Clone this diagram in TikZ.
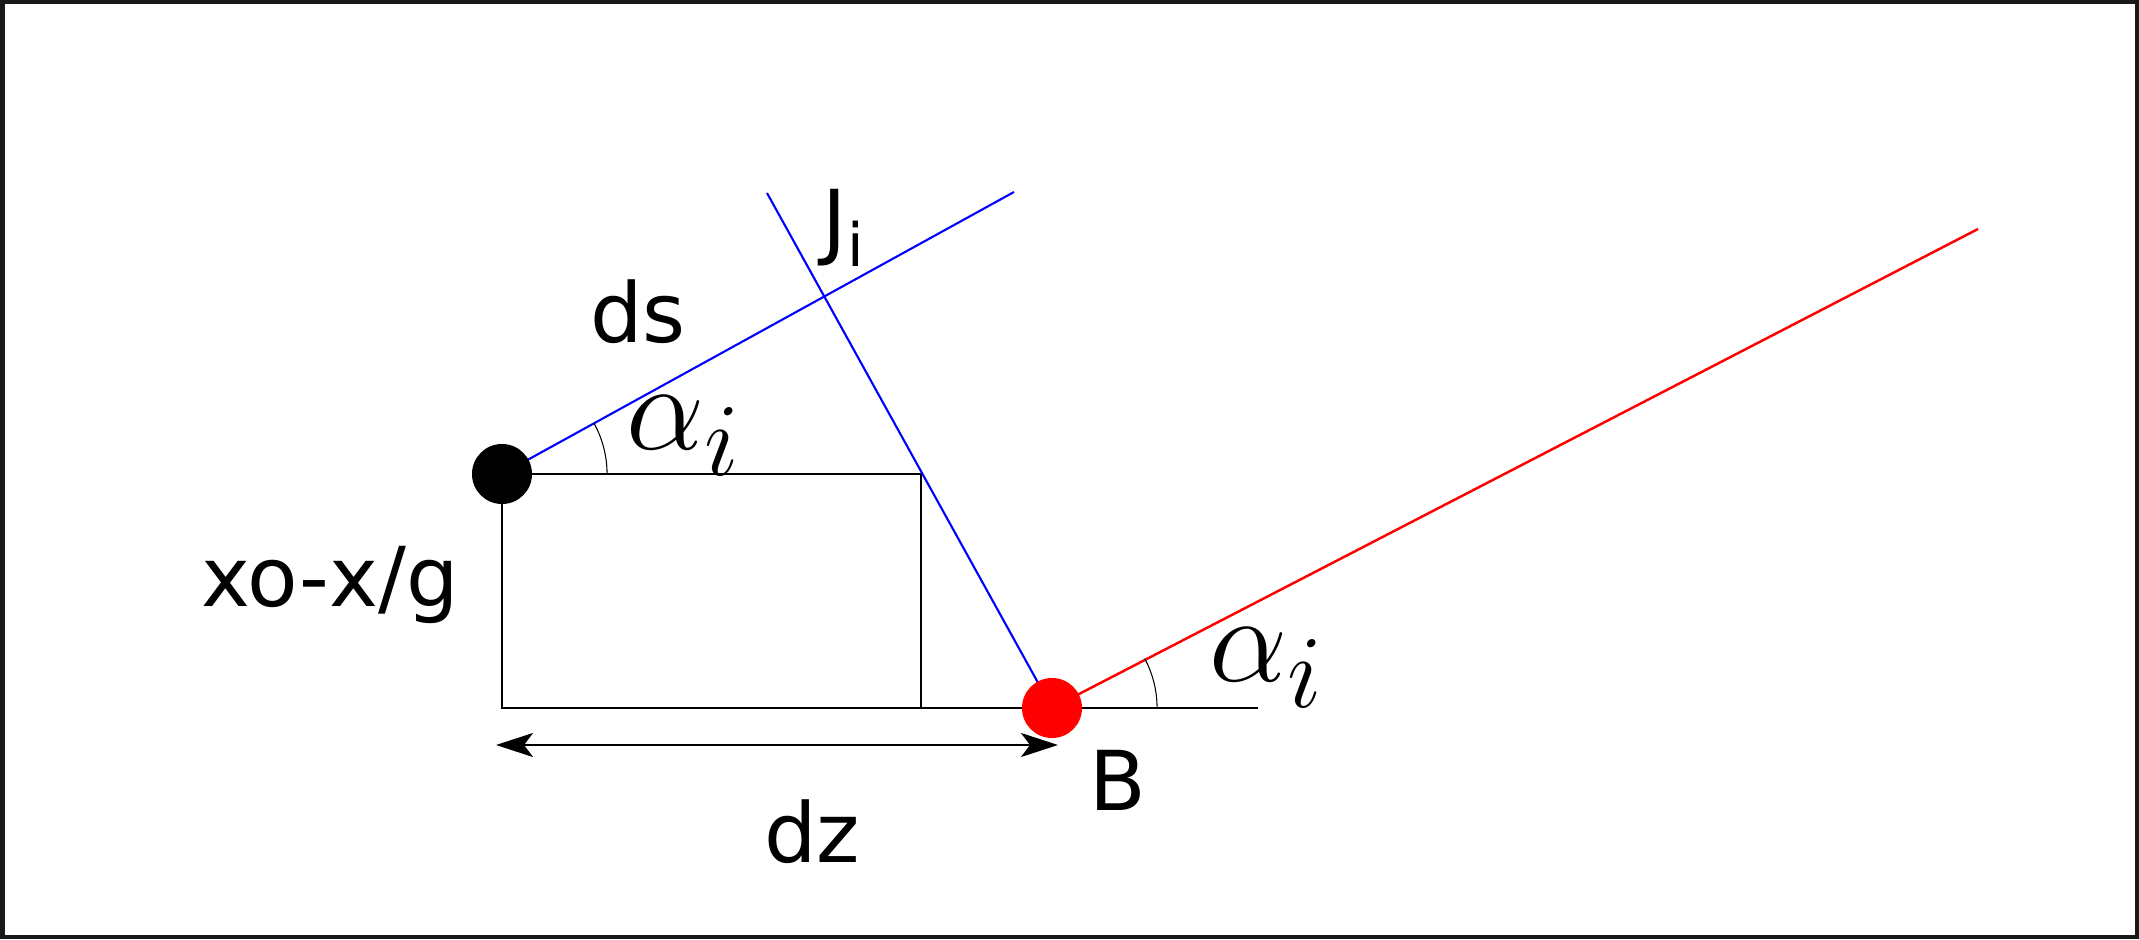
\documentclass[tikz,border=0pt]{standalone}
\usepackage{fontspec}
\setmainfont{DejaVu Sans}
\usetikzlibrary{arrows.meta}

\begin{document}
\begin{tikzpicture}[x=0.01cm,y=0.01cm]
        %colores
        \colorlet{azul}{blue}
        \colorlet{rojo}{red}
        \colorlet{marco}{black!90}

        \tikzset{punto/.style={circle,inner sep=0pt,minimum size=0.6cm},
                 linea/.style={line width=0.7pt},
                 arco/.style={line width=0.3pt},
                 punta/.tip={Stealth[length=3.7mm,width=2.4mm,inset=0.9mm]},
                 etiqueta/.style={inner sep=0pt,font=\fontsize{23.5}{28}\selectfont},
                 angulo/.style={inner sep=0pt,font=\fontsize{24.88}{30}\selectfont}}

        % Marco
        \useasboundingbox (0,0) rectangle (2139,939);
        \draw[marco,line width=0.045cm] (2.25,2.25) rectangle (2136.75,936.75);

        % Puntos del esquema
        \coordinate (a) at (502,465);
        \coordinate (b) at (1052,231);
        \coordinate (C) at (921,465);
        \coordinate (D) at (502,231);
        \coordinate (F) at (921,231);
        \coordinate (E) at (1258,231);
        \coordinate (dsfin) at (1014,747);
        \coordinate (Jini) at (767,746);
        \coordinate (rfin) at (1978,710);

        % Rectangulo y base
        \draw[linea] (a) -- (C) -- (F);
        \draw[linea] (a) -- (D) -- (E);

        % Rectas azules y roja
        \draw[azul,line width=0.6pt] (a) -- (dsfin);
        \draw[azul,line width=0.6pt] (Jini) -- (b);
        \draw[rojo,linea] (b) -- (rfin);

        % Angulos
        \draw[arco] (a) ++(1.05cm,0) arc[start angle=0,end angle=29,radius=1.05cm];
        \draw[arco] (b) ++(1.05cm,0) arc[start angle=0,end angle=28,radius=1.05cm];

        % Puntos
        \node[punto,fill=black] (A) at (a) {};
        \node[punto,fill=rojo] (B) at (b) {};

        % Flecha dz
        \coordinate (dzi) at (496,194);
        \coordinate (dzf) at (1058,194);
        \draw[punta-punta,line width=0.6pt] (dzi) -- (dzf);

        % Etiquetas
        \node[etiqueta,anchor=base] (ds) at (638,596) {ds};
        \node[etiqueta,anchor=base west] (Ji) at (822,689) {J\lower4.8pt\hbox{\fontsize{17}{17}\selectfont i}};
        \node[etiqueta,anchor=base] (xo) at (330,332) {xo-x/g};
        \node[etiqueta,anchor=base] (dz) at (812,77) {dz};
        \node[etiqueta,anchor=base west] (Bl) at (1089,129) {B};
        \node[angulo,anchor=base west] (al1) at (626,489) {\scalebox{1.42}{$\alpha_i$}};
        \node[angulo,anchor=base west] (al2) at (1209,257) {\scalebox{1.42}{$\alpha_i$}};
    \end{tikzpicture}
\end{document}
